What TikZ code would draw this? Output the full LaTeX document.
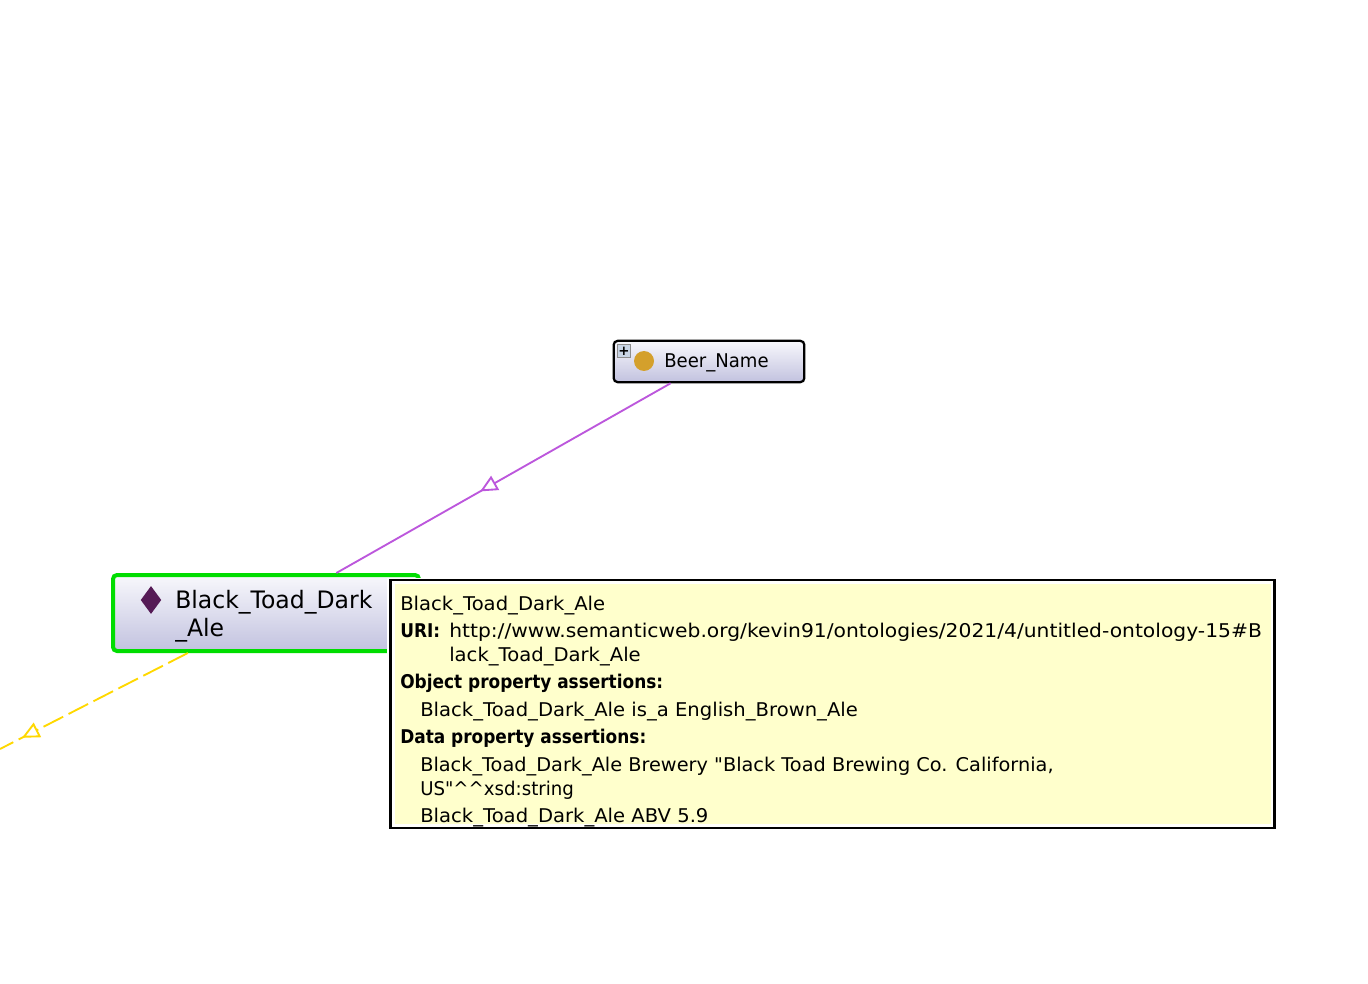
\documentclass[tikz,border=0pt]{standalone}
\usepackage{fontspec}
\setmainfont{DejaVu Sans}
\newfontfamily\tipfont[FakeStretch=1.035, BoldFeatures={FakeStretch=0.895}]{DejaVu Sans}
\usetikzlibrary{arrows.meta,decorations.markings,shapes.geometric}
\definecolor{classgold}{HTML}{D4A02C}
\definecolor{indivpurple}{HTML}{551A55}
\definecolor{edgepurple}{HTML}{BC57DC}
\definecolor{edgeyellow}{HTML}{FFD800}
\definecolor{selgreen}{HTML}{00DD00}
\definecolor{tipyellow}{HTML}{FFFFCC}
\definecolor{boxtop}{HTML}{F8F8FC}
\definecolor{boxbottom}{HTML}{C2C2DF}
\definecolor{plusblue}{HTML}{C8D4E4}
\tikzset{
  entity/.style={rectangle, rounded corners=3pt, inner sep=0pt, top color=boxtop, bottom color=boxbottom},
  subedge/.style={edgepurple, line width=1.4pt, postaction={decorate},
    decoration={markings, mark=at position 0.57 with {\arrow{Triangle[open, fill=white, length=13pt, width=12pt, line width=1.4pt]}}}},
  typeedge/.style={edgeyellow, line width=1.4pt, dash pattern=on 16.5pt off 4.5pt, postaction={decorate},
    decoration={markings, mark=at position 0.883 with {\arrow{Triangle[open, fill=white, length=13pt, width=12pt, line width=1.4pt]}}}},
  tipline/.style={anchor=base west, inner sep=0pt, font=\tipfont\fontsize{14.2}{16}\selectfont}
}
\begin{document}
\begin{tikzpicture}[x=0.75pt, y=-0.75pt]
  \useasboundingbox (0, 0) rectangle (1368, 984);
  % class and individual
  \node[entity, draw=black, line width=1.7pt, minimum width=143pt, minimum height=31pt] (beer) at (709, 361.5) {};
  \node[entity, draw=selgreen, line width=3pt, minimum width=229.5pt, minimum height=57pt] (toad) at (266, 613) {};
  \coordinate (typeend) at (0, 749);
  \draw[subedge] (beer) -- (toad);
  \draw[typeedge] (toad) -- (typeend);
  % icons and labels
  \node[draw=black!45, fill=plusblue, line width=0.6pt, minimum size=10pt, inner sep=0pt, font=\fontsize{10}{10}\bfseries] (beerplus) at (624, 351) {+};
  \node[circle, fill=classgold, minimum size=15pt, inner sep=0pt] (beericon) at (644, 361) {};
  \node[anchor=base west, inner sep=0pt, font=\tipfont\addfontfeature{FakeStretch=0.955}\fontsize{14.2}{16}\selectfont] (beerlabel) at (664, 367.5) {Beer\_Name};
  \node[diamond, fill=indivpurple, minimum width=15.5pt, minimum height=21pt, aspect=0.75, inner sep=0pt] (toadicon) at (151, 600) {};
  \node[anchor=base west, inner sep=0pt, font=\tipfont\addfontfeature{FakeStretch=0.98}\fontsize{18}{21}\selectfont] (toadlabel) at (175, 608) {Black\_Toad\_Dark};
  \node[anchor=base west, inner sep=0pt, font=\tipfont\addfontfeature{FakeStretch=0.98}\fontsize{18}{21}\selectfont] (toadlabelb) at (175, 636) {\_Ale};
  % tooltip
  \node[fill=white, minimum width=668pt, minimum height=190pt, inner sep=0pt] (tipframe) at (832.5, 704.5) {};
  \node[draw=black, fill=white!92!tipyellow, line width=1.7pt, minimum width=663pt, minimum height=185.5pt, inner sep=0pt] (tip) at (832.5, 704) {};
  \node[fill=tipyellow, minimum width=657pt, minimum height=179.5pt, inner sep=0pt] (tipfill) at (832.5, 704) {};
  \node[tipline] (tipname) at (400, 610) {Black\_Toad\_Dark\_Ale};
  \node[tipline] (tipuri) at (400, 637) {\bfseries URI:};
  \node[tipline, font=\tipfont\addfontfeature{FakeStretch=1.071}\fontsize{14.2}{16}\selectfont] (tipurla) at (449, 637) {http://www.semanticweb.org/kevin91/ontologies/2021/4/untitled-ontology-15\#B};
  \node[tipline] (tipurlb) at (449, 661) {lack\_Toad\_Dark\_Ale};
  \node[tipline] (tipobj) at (400, 688) {\bfseries Object property assertions:};
  \node[tipline] (tipobja) at (420, 716) {Black\_Toad\_Dark\_Ale is\_a English\_Brown\_Ale};
  \node[tipline] (tipdata) at (400, 743) {\bfseries Data property assertions:};
  \node[tipline, font=\tipfont\addfontfeature{FakeStretch=1.02}\fontsize{14.2}{16}\selectfont] (tipdataa) at (420, 771) {Black\_Toad\_Dark\_Ale Brewery "Black Toad Brewing Co. California,};
  \node[tipline, font=\tipfont\addfontfeature{FakeStretch=0.96}\fontsize{14.2}{16}\selectfont] (tipdatab) at (420, 795) {US"\textasciicircum\textasciicircum xsd:string};
  \node[tipline] (tipdatac) at (420, 822) {Black\_Toad\_Dark\_Ale ABV 5.9};
\end{tikzpicture}
\end{document}
